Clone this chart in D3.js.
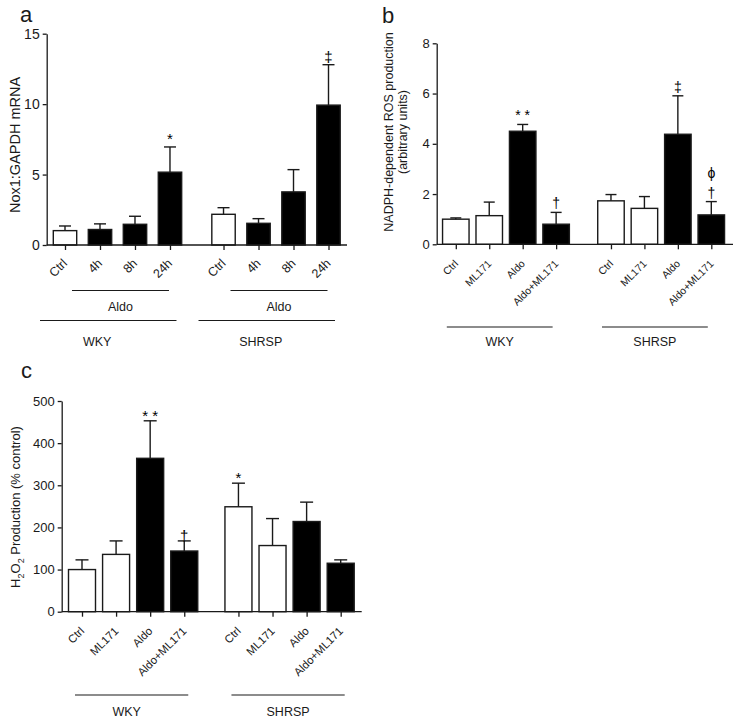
<!DOCTYPE html>
<html>
<head>
<meta charset="utf-8">
<script src="https://cdn.jsdelivr.net/npm/d3@7"></script>
<style>
  html, body { margin: 0; padding: 0; background: #fff; }
  svg { display: block; }
</style>
</head>
<body>
<svg id="chart" width="736" height="721" font-family="'Liberation Sans', Arial, Helvetica, sans-serif"></svg>
<script>
// ---------- Panel a data ----------
const aCategories = ["Ctrl", "4h", "8h", "24h", "Ctrl", "4h", "8h", "24h"];
const aGroupOf = [0, 0, 0, 0, 1, 1, 1, 1];
const aMeans = [1.02, 1.1, 1.47, 5.17, 2.18, 1.54, 3.77, 9.93];
const aErrTop = [1.35, 1.5, 2.04, 6.96, 2.65, 1.87, 5.35, 12.8];
const aFills = ["white", "black", "black", "black", "white", "black", "black", "black"];
const aAnnot = [[], [], [], ["*"], [], [], [], ["\u2021"]];
const aYTicks = [0, 5, 10, 15];
const aYMax = 15;
const aYLabel = ["Nox1:GAPDH mRNA"];
const aGroups = ["WKY", "SHRSP"];
const aSubGroups = ["Aldo", "Aldo"];

// ---------- Panel b data ----------
const bCategories = ["Ctrl", "ML171", "Aldo", "Aldo+ML171", "Ctrl", "ML171", "Aldo", "Aldo+ML171"];
const bGroupOf = [0, 0, 0, 0, 1, 1, 1, 1];
const bMeans = [1.0, 1.14, 4.5, 0.8, 1.73, 1.43, 4.38, 1.17];
const bErrTop = [1.05, 1.68, 4.77, 1.27, 1.98, 1.9, 5.91, 1.7];
const bFills = ["white", "white", "black", "black", "white", "white", "black", "black"];
const bAnnot = [[], [], ["* *"], ["\u2020"], [], [], ["\u2021"], ["\u03D5", "\u2020"]];
const bYTicks = [0, 2, 4, 6, 8];
const bYMax = 8;
const bYLabel = ["NADPH-dependent ROS production", "(arbitrary units)"];
const bGroups = ["WKY", "SHRSP"];

// ---------- Panel c data ----------
const cCategories = ["Ctrl", "ML171", "Aldo", "Aldo+ML171", "Ctrl", "ML171", "Aldo", "Aldo+ML171"];
const cGroupOf = [0, 0, 0, 0, 1, 1, 1, 1];
const cMeans = [100, 136, 364, 144, 249, 157, 214, 115];
const cErrTop = [123, 168, 453, 168, 305, 221, 260, 123];
const cFills = ["white", "white", "black", "black", "white", "white", "black", "black"];
const cAnnot = [[], [], ["* *"], ["\u2020"], ["*"], [], [], []];
const cYTicks = [0, 100, 200, 300, 400, 500];
const cYMax = 500;
const cGroups = ["WKY", "SHRSP"];

const svg = d3.select("#chart");
const INK = "#1a1a1a";
const FONT = "'Liberation Sans', Arial, Helvetica, sans-serif";

function drawPanel(cfg) {
  const g = svg.append("g");
  const pos = cfg.categories.map((c, i) => i + cfg.groupOf[i] * cfg.gap);
  const x = d3.scaleLinear().domain([pos[0], pos[pos.length - 1]]).range([cfg.firstX, cfg.lastX]);
  const y = d3.scaleLinear().domain([0, cfg.yMax]).range([cfg.y0, cfg.yTop]);

  // bars
  g.selectAll("rect.bar").data(cfg.means).enter().append("rect")
    .attr("x", (d, i) => x(pos[i]) - cfg.barW / 2)
    .attr("y", d => y(d))
    .attr("width", cfg.barW)
    .attr("height", d => y(0) - y(d))
    .attr("fill", (d, i) => cfg.fills[i])
    .attr("stroke", INK).attr("stroke-width", 1.4);

  // error bars (upper only)
  cfg.errTop.forEach((e, i) => {
    const cx = x(pos[i]);
    g.append("line").attr("x1", cx).attr("x2", cx).attr("y1", y(cfg.means[i])).attr("y2", y(e))
      .attr("stroke", INK).attr("stroke-width", 1.4);
    g.append("line").attr("x1", cx - cfg.capW / 2).attr("x2", cx + cfg.capW / 2).attr("y1", y(e)).attr("y2", y(e))
      .attr("stroke", INK).attr("stroke-width", 1.4);
    const ann = cfg.annot[i];
    ann.slice().reverse().forEach((s, k) => {
      g.append("text").attr("x", cx).attr("y", y(e) - cfg.annOff - k * 20)
        .attr("text-anchor", "middle").attr("font-size", cfg.annSize)
        .attr("fill", "#000").text(s);
    });
  });

  // y axis
  const yAxis = d3.axisLeft(y).tickValues(cfg.yTicks).tickSize(4).tickSizeOuter(0).tickPadding(3);
  const ya = g.append("g").attr("transform", `translate(${cfg.axisX},0)`).call(yAxis)
    .attr("font-family", FONT).attr("font-size", cfg.tickSize);
  ya.selectAll("text").attr("fill", INK);
  ya.selectAll("line, path").attr("stroke", INK).attr("stroke-width", 1.3);

  // x axis baseline + ticks
  g.append("line").attr("x1", cfg.axisX).attr("x2", cfg.axisEnd).attr("y1", y(0)).attr("y2", y(0))
    .attr("stroke", INK).attr("stroke-width", 1.3);
  const xAxis = d3.axisBottom(x).tickValues(pos).tickSize(5).tickSizeOuter(0).tickFormat(() => "");
  const xa = g.append("g").attr("transform", `translate(0,${y(0)})`).call(xAxis);
  xa.select("path.domain").remove();
  xa.selectAll("line").attr("stroke", INK).attr("stroke-width", 1.3);

  // rotated category labels
  cfg.categories.forEach((c, i) => {
    g.append("text")
      .attr("transform", `translate(${x(pos[i]) + cfg.lblDx},${y(0) + cfg.lblDy}) rotate(-45)`)
      .attr("text-anchor", "end").attr("font-size", cfg.catSize).attr("fill", INK).text(c);
  });

  // group lines and labels
  cfg.groups.forEach((name, gi) => {
    const idx = pos.filter((p, i) => cfg.groupOf[i] === gi);
    const x1 = x(idx[0]) - cfg.grpPadL, x2 = x(idx[idx.length - 1]) + cfg.grpPadR;
    g.append("line").attr("x1", x1).attr("x2", x2).attr("y1", cfg.grpLineY).attr("y2", cfg.grpLineY)
      .attr("stroke", INK).attr("stroke-width", 1.2);
    g.append("text").attr("x", (x1 + x2) / 2 + cfg.grpTextDx[gi]).attr("y", cfg.grpTextY)
      .attr("text-anchor", "middle").attr("font-size", cfg.grpSize).attr("fill", INK).text(name);
  });

  // sub-group (Aldo) lines
  if (cfg.subGroups) {
    cfg.subGroups.forEach((name, gi) => {
      const idx = pos.filter((p, i) => cfg.groupOf[i] === gi);
      const x1 = x(idx[1]) - cfg.subPadL, x2 = x(idx[idx.length - 1]) + cfg.subPadR;
      g.append("line").attr("x1", x1).attr("x2", x2).attr("y1", cfg.subLineY).attr("y2", cfg.subLineY)
        .attr("stroke", INK).attr("stroke-width", 1.2);
      g.append("text").attr("x", (x1 + x2) / 2).attr("y", cfg.subTextY)
        .attr("text-anchor", "middle").attr("font-size", cfg.grpSize).attr("fill", INK).text(name);
    });
  }
  return g;
}

// Panel a
drawPanel({
  categories: aCategories, groupOf: aGroupOf, means: aMeans, errTop: aErrTop, fills: aFills,
  annot: aAnnot, yTicks: aYTicks, yMax: aYMax, groups: aGroups, subGroups: aSubGroups,
  gap: 0.53, firstX: 65, lastX: 328.5, barW: 23.4, capW: 12,
  y0: 245, yTop: 33.7, axisX: 46.7, axisEnd: 347,
  tickSize: 14, catSize: 12.5, annSize: 15, annOff: 3,
  lblDx: 3, lblDy: 19,
  grpLineY: 320.5, grpTextY: 346, grpSize: 12.5, grpPadL: 25, grpPadR: 6.5, grpTextDx: [-11, -6],
  subLineY: 290.5, subTextY: 311, subPadL: 28, subPadR: -1
});

// Panel b
drawPanel({
  categories: bCategories, groupOf: bGroupOf, means: bMeans, errTop: bErrTop, fills: bFills,
  annot: bAnnot, yTicks: bYTicks, yMax: bYMax, groups: bGroups,
  gap: 0.64, firstX: 455.8, lastX: 711.3, barW: 26.5, capW: 11,
  y0: 244.3, yTop: 43.3, axisX: 436.7, axisEnd: 733,
  tickSize: 13, catSize: 10.5, annSize: 14, annOff: 4,
  lblDx: 3, lblDy: 20,
  grpLineY: 327, grpTextY: 346, grpSize: 12.5, grpPadL: 9, grpPadR: -3.5, grpTextDx: [0, 0]
});

// Panel c
drawPanel({
  categories: cCategories, groupOf: cGroupOf, means: cMeans, errTop: cErrTop, fills: cFills,
  annot: cAnnot, yTicks: cYTicks, yMax: cYMax, groups: cGroups,
  gap: 0.59, firstX: 82, lastX: 340.7, barW: 27, capW: 13,
  y0: 611.7, yTop: 401, axisX: 61.7, axisEnd: 361.7,
  tickSize: 13, catSize: 11.3, annSize: 15, annOff: 0,
  lblDx: 3, lblDy: 20,
  grpLineY: 695, grpTextY: 716, grpSize: 12.5, grpPadL: 7, grpPadR: 4, grpTextDx: [-5, 0]
});

// Y-axis titles
svg.append("text").attr("transform", "translate(19.5,145) rotate(-90)")
  .attr("text-anchor", "middle").attr("font-size", 14.5).attr("fill", INK).text(aYLabel[0]);

bYLabel.forEach((t, i) => {
  svg.append("text").attr("transform", `translate(${393 + i * 13.5},132) rotate(-90)`)
    .attr("text-anchor", "middle").attr("font-size", 12.5).attr("fill", INK).text(t);
});

const cLab = svg.append("text").attr("transform", "translate(20,507) rotate(-90)")
  .attr("text-anchor", "middle").attr("font-size", 13).attr("fill", INK);
cLab.append("tspan").text("H");
cLab.append("tspan").attr("font-size", 9).attr("dy", 4).text("2");
cLab.append("tspan").attr("dy", -4).text("O");
cLab.append("tspan").attr("font-size", 9).attr("dy", 4).text("2");
cLab.append("tspan").attr("dy", -4).text(" Production (% control)");

// Panel letters
const letters = ["a", "b", "c"];
const letterPos = [[20, 22], [382, 23], [21, 378]];
letters.forEach((l, i) => {
  svg.append("text").attr("x", letterPos[i][0]).attr("y", letterPos[i][1])
    .attr("font-size", 22).attr("fill", INK).text(l);
});
</script>
</body>
</html>
